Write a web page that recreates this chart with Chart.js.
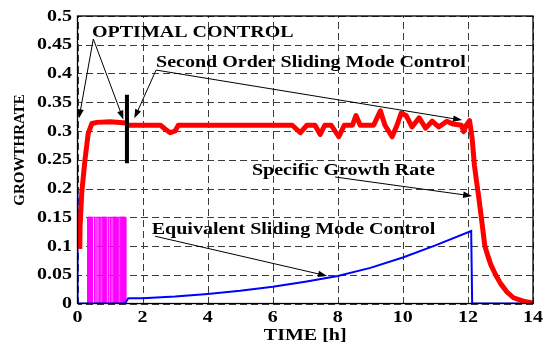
<!DOCTYPE html>
<html>
<head>
<meta charset="utf-8">
<script src="https://cdn.jsdelivr.net/npm/chart.js@4.4.0/dist/chart.umd.min.js"></script>
<style>
  html, body { margin: 0; padding: 0; background: #fff; }
  #wrap { width: 544px; height: 345px; }
</style>
</head>
<body>
<div id="wrap"><canvas id="chart-growth"></canvas></div>
<script>
// axis ticks
const xTicks = [0, 2, 4, 6, 8, 10, 12, 14];
const xTickLabels = ["0", "2", "4", "6", "8", "10", "12", "14"];
const yTicks = [0, 0.05, 0.1, 0.15, 0.2, 0.25, 0.3, 0.35, 0.4, 0.45, 0.5];
const yTickLabels = ["0", "0.05", "0.1", "0.15", "0.2", "0.25", "0.3", "0.35", "0.4", "0.45", "0.5"];

// specific growth rate (red)
const growthTime = [0.07, 0.08, 0.13, 0.23, 0.33, 0.44, 0.6, 1.0, 1.5, 1.56, 2.55, 2.7, 2.85, 3.0, 3.1,
  6.6, 6.85, 7.05, 7.3, 7.46, 7.6, 7.8, 8.03, 8.2, 8.45, 8.56, 8.69, 9.1, 9.31, 9.45, 9.67, 9.82,
  9.95, 10.1, 10.28, 10.5, 10.7, 10.9, 11.1, 11.35, 11.55, 11.8, 11.87, 11.95, 12.05, 12.13,
  12.2, 12.27, 12.33, 12.4, 12.52, 12.6, 12.7, 12.85, 13.0, 13.2, 13.4, 13.7, 14.0];
const growthRate = [0.095, 0.134, 0.192, 0.25, 0.296, 0.313, 0.315, 0.316, 0.314, 0.31, 0.31, 0.303, 0.297, 0.3, 0.31,
  0.31, 0.297, 0.31, 0.31, 0.294, 0.31, 0.31, 0.29, 0.31, 0.31, 0.327, 0.31, 0.31, 0.335, 0.31, 0.29, 0.31,
  0.331, 0.327, 0.307, 0.323, 0.305, 0.317, 0.307, 0.317, 0.312, 0.31, 0.299, 0.31, 0.318, 0.287,
  0.24, 0.21, 0.186, 0.155, 0.1, 0.085, 0.068, 0.05, 0.035, 0.02, 0.01, 0.004, 0.001];

// equivalent sliding mode control (blue)
const eqTime = [0, 0, 1.46, 1.56, 2, 3, 4, 5, 6, 7, 8, 9, 10, 11, 12.1, 12.13, 14];
const eqControl = [0.19, 0, 0, 0.009, 0.009, 0.012, 0.0165, 0.022, 0.029, 0.038, 0.048, 0.062, 0.08, 0.101, 0.126, 0, 0];

// switching optimal control (magenta)
const switchLevel = 0.15;
const switchOn = 0.31;
const switchOff = 1.48;
const switchTimes = [0.46, 0.52, 0.57, 0.63, 0.68, 0.72, 0.9, 0.96, 1.01, 1.06, 1.23, 1.27];
const chatterStart = [0.31, 0.76, 1.11, 1.31];
const chatterEnd = [0.42, 0.86, 1.19, 1.48];

// instant of switching to sliding mode (black bar)
const barTime = [1.52, 1.52];
const barValue = [0.244, 0.363];

// annotations, in data units
const noteText = ["OPTIMAL CONTROL", "Second Order Sliding Mode Control", "Specific Growth Rate", "Equivalent Sliding Mode Control"];
const noteX = [0.446, 2.415, 5.36, 2.283];
const noteY = [0.463, 0.412, 0.2235, 0.121];
// [x from, y from, x to, y to]
const arrows = [
  [0.486, 0.46, 0.046, 0.322],
  [0.486, 0.46, 1.41, 0.32],
  [2.415, 0.406, 1.748, 0.322],
  [2.415, 0.406, 11.82, 0.319],
  [7.92, 0.22, 12.13, 0.187],
  [2.385, 0.117, 7.67, 0.048],
];

const STRETCH = 1.25;
const serif = "'Liberation Serif', 'Times New Roman', serif";

const toPoints = (xs, ys) => xs.map((x, i) => ({ x: x, y: ys[i] }));

const switchLine = [{ x: switchOn, y: 0 }, { x: switchOn, y: switchLevel }];
switchTimes.forEach((t) => {
  switchLine.push({ x: t, y: switchLevel }, { x: t, y: 0 }, { x: t, y: switchLevel });
});
switchLine.push({ x: switchOff, y: switchLevel }, { x: switchOff, y: 0 });

const chatter = [];
chatterStart.forEach((a, i) => {
  const b = chatterEnd[i];
  chatter.push({ x: a, y: 0 }, { x: a, y: switchLevel }, { x: b, y: switchLevel }, { x: b, y: 0 });
});

function wideText(ctx, text, x, y, align) {
  ctx.save();
  ctx.translate(x, y);
  ctx.scale(STRETCH, 1);
  ctx.textAlign = align;
  ctx.fillText(text, 0, 0);
  ctx.restore();
}

function arrow(ctx, x1, y1, x2, y2) {
  const a = Math.atan2(y2 - y1, x2 - x1);
  const len = 9, half = 3.2;
  const c = Math.cos(a), s = Math.sin(a);
  ctx.beginPath();
  ctx.moveTo(x1, y1);
  ctx.lineTo(x2 - c * len * 0.7, y2 - s * len * 0.7);
  ctx.stroke();
  ctx.beginPath();
  ctx.moveTo(x2, y2);
  ctx.lineTo(x2 - c * len + s * half, y2 - s * len - c * half);
  ctx.lineTo(x2 - c * len - s * half, y2 - s * len + c * half);
  ctx.closePath();
  ctx.fill();
}

// dashed matlab style grid, dashes laid out one by one
const DASH = 7, GAP = 4;
function drawGrid(chart) {
  const { ctx, chartArea: area, scales } = chart;
  const left = Math.round(area.left), right = Math.round(area.right);
  const top = Math.round(area.top), bottom = Math.round(area.bottom);
  ctx.save();
  ctx.fillStyle = "#3c3c3c";
  xTicks.forEach((v) => {
    const px = Math.round(scales.x.getPixelForValue(v));
    for (let y = bottom; y > top; y -= DASH + GAP) {
      const h = Math.min(DASH, y - top);
      ctx.fillRect(px, y - h, 1, h);
    }
  });
  // horizontal dashes as short stroked segments
  ctx.strokeStyle = "#3c3c3c";
  ctx.lineWidth = 1;
  ctx.beginPath();
  yTicks.forEach((v) => {
    const py = Math.round(scales.y.getPixelForValue(v)) + 0.5;
    for (let x = right; x > left; x -= DASH + GAP) {
      const w = Math.min(DASH, x - left);
      ctx.moveTo(x - w, py);
      ctx.lineTo(x, py + 0.01);
    }
  });
  ctx.stroke();
  ctx.restore();
}

const gridPlugin = {
  id: "matlabGrid",
  beforeDatasetsDraw(chart) {
    drawGrid(chart);
  },
};

const textPlugin = {
  id: "matlabText",
  afterDraw(chart) {
    const { ctx, chartArea: area, scales } = chart;
    const sx = scales.x, sy = scales.y;
    ctx.save();
    // box
    ctx.strokeStyle = "#000";
    ctx.lineWidth = 1.3;
    ctx.strokeRect(area.left, area.top, area.right - area.left, area.bottom - area.top);

    ctx.fillStyle = "#000";
    ctx.font = "bold 16px " + serif;
    ctx.textBaseline = "middle";
    yTicks.forEach((v, i) => wideText(ctx, yTickLabels[i], area.left - 5.5, sy.getPixelForValue(v) + 0.5, "right"));
    ctx.textBaseline = "alphabetic";
    xTicks.forEach((v, i) => wideText(ctx, xTickLabels[i], sx.getPixelForValue(v), area.bottom + 18.5, "center"));

    wideText(ctx, "TIME [h]", (area.left + area.right) / 2, 340, "center");

    ctx.save();
    ctx.translate(20, 150);
    ctx.rotate(-Math.PI / 2);
    ctx.font = "bold 15px " + serif;
    ctx.textAlign = "center";
    ctx.textBaseline = "middle";
    ctx.fillText("GROWTHRATE", 0, 0);
    ctx.restore();

    ctx.font = "bold 16px " + serif;
    noteText.forEach((t, i) => wideText(ctx, t, sx.getPixelForValue(noteX[i]), sy.getPixelForValue(noteY[i]), "left"));

    ctx.lineWidth = 1;
    arrows.forEach((a) => arrow(ctx, sx.getPixelForValue(a[0]), sy.getPixelForValue(a[1]),
      sx.getPixelForValue(a[2]), sy.getPixelForValue(a[3])));
    ctx.restore();
  },
};

new Chart(document.getElementById("chart-growth"), {
  type: "line",
  plugins: [gridPlugin, textPlugin],
  data: {
    datasets: [
      {
        label: "Switch",
        data: toPoints(barTime, barValue),
        borderColor: "#000",
        borderWidth: 4,
        pointRadius: 0,
      },
      {
        label: "Specific Growth Rate",
        data: toPoints(growthTime, growthRate),
        borderColor: "#ff0000",
        borderWidth: 5,
        borderJoinStyle: "round",
        pointRadius: 0,
        tension: 0,
      },
      {
        label: "Equivalent Sliding Mode Control",
        data: toPoints(eqTime, eqControl),
        borderColor: "#0000ff",
        borderWidth: 2,
        pointRadius: 0,
        tension: 0,
      },
      {
        label: "Switching",
        data: switchLine,
        borderColor: "#ff00ff",
        borderWidth: 1,
        pointRadius: 0,
      },
      {
        label: "Chatter",
        data: chatter,
        borderColor: "#ff00ff",
        backgroundColor: "#ff00ff",
        borderWidth: 1,
        pointRadius: 0,
        fill: "origin",
      },
    ],
  },
  options: {
    responsive: true,
    maintainAspectRatio: false,
    animation: false,
    events: [],
    layout: { padding: { top: 16, right: 11, left: 0, bottom: 0 } },
    plugins: {
      legend: { display: false },
      tooltip: { enabled: false },
    },
    scales: {
      x: {
        type: "linear",
        min: 0,
        max: 14,
        afterFit: (scale) => { scale.height = 41.5; },
        grid: { display: false },
        border: { display: false },
        ticks: { display: false },
      },
      y: {
        type: "linear",
        min: 0,
        max: 0.5,
        afterFit: (scale) => { scale.width = 77.5; },
        grid: { display: false },
        border: { display: false },
        ticks: { display: false },
      },
    },
  },
});
</script>
</body>
</html>
